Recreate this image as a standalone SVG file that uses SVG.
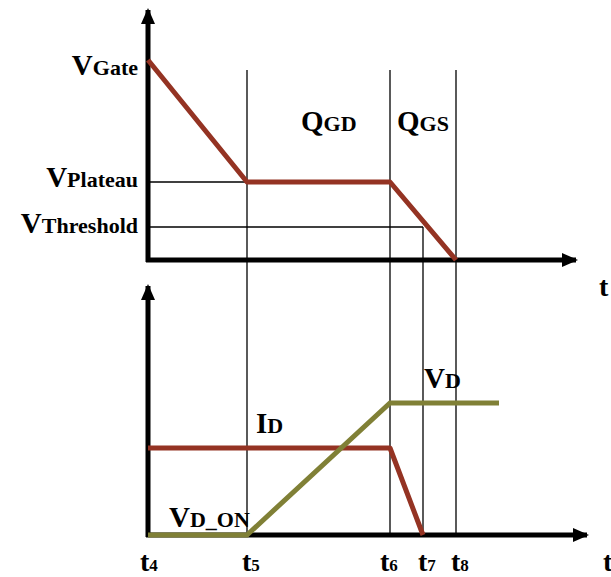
<svg xmlns="http://www.w3.org/2000/svg" width="611" height="577" viewBox="0 0 611 577">
<style>
.ax{stroke:#000;stroke-width:5;fill:none}
.thin{stroke:#000;stroke-width:1.3;fill:none}
.red{stroke:#943323;stroke-width:5;fill:none;stroke-linejoin:round}
.grn{stroke:#808036;stroke-width:5;fill:none;stroke-linejoin:miter}
text{font-family:"Liberation Serif","DejaVu Serif","Times New Roman",serif;font-weight:bold;fill:#000}
.big{font-size:29px}
.sub{font-size:22px}
.tb{font-size:28px}
.ts{font-size:17px}
</style>
<defs>
<marker id="ah" markerUnits="userSpaceOnUse" markerWidth="16" markerHeight="14" refX="14" refY="7" orient="auto">
<path d="M0,0 L16,7 L0,14 Z" fill="#000"/>
</marker>
</defs>
<rect width="611" height="577" fill="#fff"/>
<g id="connectors">
<line class="thin" x1="247" y1="70" x2="247" y2="535"/>
<line class="thin" x1="390" y1="70" x2="390" y2="535"/>
<line class="thin" x1="423" y1="227" x2="423" y2="535"/>
<line class="thin" x1="456" y1="70" x2="456" y2="535"/>
<line class="thin" x1="148" y1="182" x2="247" y2="182"/>
<line class="thin" x1="148" y1="227" x2="423" y2="227"/>
<line class="ax" x1="148" y1="262" x2="148" y2="10" marker-end="url(#ah)"/>
<line class="ax" x1="146" y1="260" x2="576" y2="260" marker-end="url(#ah)"/>
<line class="ax" x1="148" y1="537" x2="148" y2="286" marker-end="url(#ah)"/>
<line class="ax" x1="146" y1="535" x2="587" y2="535" marker-end="url(#ah)"/>
</g>
<g id="vgs-curve"><polyline class="red" points="148,60 247,182 390,182 456,260"/></g>
<g id="id-curve"><polyline class="red" points="148,448 390,448 423,535"/></g>
<g id="vd-curve"><polyline class="grn" points="148,535 247,535 390,403 499,403"/></g>
<g id="label-vgate"><text x="138" y="75" text-anchor="end"><tspan class="big">V</tspan><tspan class="sub">Gate</tspan></text></g>
<g id="label-vplateau"><text x="138" y="187" text-anchor="end"><tspan class="big">V</tspan><tspan class="sub">Plateau</tspan></text></g>
<g id="label-vth"><text x="138" y="233" text-anchor="end"><tspan class="big">V</tspan><tspan class="sub">Threshold</tspan></text></g>
<g id="label-qgd"><text x="301" y="131"><tspan class="big">Q</tspan><tspan class="sub">GD</tspan></text></g>
<g id="label-qgs"><text x="397" y="131"><tspan class="big">Q</tspan><tspan class="sub">GS</tspan></text></g>
<g id="label-t-top"><text class="tb" x="599" y="296">t</text></g>
<g id="label-id"><text x="256" y="433"><tspan class="big">I</tspan><tspan class="sub">D</tspan></text></g>
<g id="label-vd"><text x="424" y="388"><tspan class="big">V</tspan><tspan class="sub">D</tspan></text></g>
<g id="label-vdon"><text x="169" y="527"><tspan class="big">V</tspan><tspan class="sub">D_ON</tspan></text></g>
<g id="label-t4"><text x="140" y="571"><tspan class="tb">t</tspan><tspan class="ts">4</tspan></text></g>
<g id="label-t5"><text x="242" y="571"><tspan class="tb">t</tspan><tspan class="ts">5</tspan></text></g>
<g id="label-t6"><text x="380" y="571"><tspan class="tb">t</tspan><tspan class="ts">6</tspan></text></g>
<g id="label-t7"><text x="418" y="571"><tspan class="tb">t</tspan><tspan class="ts">7</tspan></text></g>
<g id="label-t8"><text x="451" y="571"><tspan class="tb">t</tspan><tspan class="ts">8</tspan></text></g>
<g id="label-t-bot"><text class="tb" x="603" y="571">t</text></g>
</svg>
